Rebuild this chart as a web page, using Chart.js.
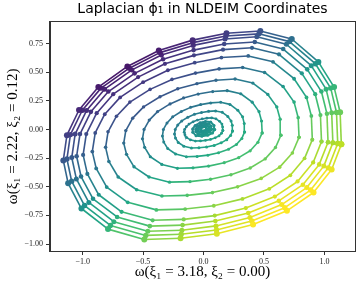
<!DOCTYPE html>
<html>
<head>
<meta charset="utf-8">
<script src="https://cdn.jsdelivr.net/npm/chart.js@4.4.1/dist/chart.umd.min.js"></script>
<style>
  body { margin: 0; background: #fff; }
  canvas { display: block; }
</style>
</head>
<body>
<canvas id="mycanvas" width="359" height="283"></canvas>
<script>
// rings of the spiral, innermost first, each as [x, y] points
var c1 = [[0.025,0.003],[0.024,0.013],[0.016,0.022],[0.004,0.023],[-0.008,0.020],[-0.019,0.013],[-0.025,0.005],[-0.024,-0.003],[-0.017,-0.011],[-0.004,-0.013],[0.009,-0.011],[0.020,-0.005]];
var c2 = [[0.046,0.002],[0.044,0.021],[0.030,0.036],[0.008,0.038],[-0.014,0.032],[-0.034,0.021],[-0.045,0.005],[-0.044,-0.011],[-0.031,-0.025],[-0.007,-0.028],[0.017,-0.024],[0.037,-0.014]];
var c3 = [[0.067,0.001],[0.063,0.028],[0.043,0.050],[0.012,0.053],[-0.021,0.045],[-0.050,0.028],[-0.065,0.005],[-0.064,-0.018],[-0.045,-0.039],[-0.010,-0.044],[0.024,-0.037],[0.053,-0.022]];
var c4 = [[0.092,-0.001],[0.087,0.035],[0.059,0.065],[0.016,0.069],[-0.029,0.058],[-0.069,0.035],[-0.090,0.005],[-0.089,-0.025],[-0.062,-0.054],[-0.014,-0.060],[0.034,-0.051],[0.074,-0.031]];

var r1 = [[0.160,-0.009],[0.158,0.022],[0.152,0.047],[0.133,0.071],[0.103,0.093],[0.067,0.101],[0.028,0.099],[-0.011,0.092],[-0.050,0.082],[-0.086,0.067],[-0.120,0.047],[-0.142,0.024],[-0.156,0.000],[-0.160,-0.024],[-0.154,-0.047],[-0.139,-0.071],[-0.108,-0.091],[-0.067,-0.101],[-0.025,-0.100],[0.017,-0.095],[0.058,-0.087],[0.097,-0.073],[0.128,-0.056],[0.149,-0.033]];
var r2 = [[0.240,-0.014],[0.238,0.036],[0.228,0.075],[0.201,0.114],[0.155,0.150],[0.100,0.162],[0.042,0.158],[-0.017,0.148],[-0.075,0.132],[-0.130,0.107],[-0.180,0.075],[-0.213,0.039],[-0.234,0.000],[-0.240,-0.039],[-0.232,-0.075],[-0.209,-0.114],[-0.163,-0.146],[-0.100,-0.162],[-0.038,-0.160],[0.025,-0.153],[0.088,-0.139],[0.146,-0.117],[0.192,-0.089],[0.224,-0.053]];
var r3 = [[0.340,-0.021],[0.337,0.052],[0.323,0.110],[0.284,0.167],[0.219,0.219],[0.142,0.238],[0.059,0.232],[-0.024,0.217],[-0.107,0.193],[-0.184,0.157],[-0.255,0.110],[-0.302,0.057],[-0.332,0.000],[-0.340,-0.057],[-0.329,-0.110],[-0.296,-0.167],[-0.231,-0.214],[-0.142,-0.238],[-0.053,-0.235],[0.036,-0.224],[0.124,-0.204],[0.207,-0.172],[0.272,-0.131],[0.317,-0.078]];
var r4 = [[0.485,-0.030],[0.480,0.074],[0.459,0.156],[0.403,0.238],[0.308,0.312],[0.196,0.339],[0.076,0.331],[-0.044,0.309],[-0.165,0.275],[-0.277,0.223],[-0.380,0.156],[-0.449,0.082],[-0.492,0.000],[-0.505,-0.082],[-0.487,-0.156],[-0.440,-0.238],[-0.345,-0.305],[-0.216,-0.339],[-0.087,-0.335],[0.042,-0.320],[0.171,-0.290],[0.291,-0.246],[0.386,-0.186],[0.450,-0.112]];
var r5 = [[0.640,-0.050],[0.634,0.089],[0.606,0.197],[0.532,0.306],[0.408,0.405],[0.261,0.440],[0.103,0.430],[-0.055,0.400],[-0.213,0.356],[-0.360,0.286],[-0.496,0.197],[-0.586,0.099],[-0.643,-0.010],[-0.660,-0.119],[-0.637,-0.217],[-0.575,-0.326],[-0.451,-0.415],[-0.281,-0.460],[-0.112,-0.455],[0.058,-0.435],[0.227,-0.395],[0.386,-0.336],[0.510,-0.257],[0.595,-0.158]];
var r6 = [[0.790,-0.069],[0.783,0.103],[0.749,0.239],[0.658,0.375],[0.505,0.498],[0.324,0.541],[0.129,0.529],[-0.066,0.492],[-0.261,0.437],[-0.442,0.350],[-0.609,0.239],[-0.720,0.116],[-0.790,-0.020],[-0.810,-0.156],[-0.783,-0.279],[-0.706,-0.415],[-0.553,-0.526],[-0.344,-0.581],[-0.135,-0.575],[0.074,-0.551],[0.282,-0.501],[0.477,-0.427],[0.630,-0.329],[0.735,-0.205]];
var r7 = [[0.900,-0.089],[0.892,0.118],[0.852,0.280],[0.749,0.443],[0.575,0.591],[0.370,0.642],[0.148,0.628],[-0.073,0.583],[-0.295,0.517],[-0.500,0.413],[-0.690,0.280],[-0.817,0.133],[-0.896,-0.030],[-0.920,-0.193],[-0.888,-0.340],[-0.801,-0.503],[-0.627,-0.636],[-0.390,-0.702],[-0.152,-0.695],[0.085,-0.666],[0.322,-0.606],[0.544,-0.518],[0.718,-0.400],[0.836,-0.252]];
var r8 = [[0.976,-0.106],[0.967,0.126],[0.924,0.308],[0.813,0.490],[0.624,0.656],[0.401,0.713],[0.161,0.697],[-0.079,0.647],[-0.319,0.573],[-0.541,0.457],[-0.747,0.308],[-0.884,0.142],[-0.970,-0.040],[-0.996,-0.222],[-0.961,-0.388],[-0.867,-0.570],[-0.678,-0.719],[-0.421,-0.793],[-0.164,-0.785],[0.093,-0.752],[0.350,-0.686],[0.590,-0.586],[0.778,-0.454],[0.907,-0.288]];
var r9 = [[1.030,-0.111],[1.021,0.137],[0.975,0.331],[0.858,0.525],[0.659,0.702],[0.424,0.764],[0.171,0.746],[-0.082,0.693],[-0.335,0.613],[-0.570,0.490],[-0.787,0.331],[-0.932,0.154],[-1.022,-0.040],[-1.050,-0.234],[-1.013,-0.411],[-0.914,-0.605],[-0.715,-0.764],[-0.444,-0.844],[-0.173,-0.835],[0.098,-0.799],[0.370,-0.729],[0.623,-0.623],[0.822,-0.482],[0.957,-0.305]];
var r10 = [[1.070,-0.115],[1.060,0.147],[1.014,0.352],[0.891,0.557],[0.685,0.744],[0.441,0.809],[0.178,0.790],[-0.085,0.734],[-0.348,0.650],[-0.592,0.520],[-0.818,0.352],[-0.968,0.165],[-1.062,-0.040],[-1.090,-0.245],[-1.052,-0.432],[-0.949,-0.637],[-0.742,-0.805],[-0.461,-0.889],[-0.179,-0.880],[0.103,-0.842],[0.384,-0.768],[0.647,-0.656],[0.854,-0.507],[0.995,-0.320]];
var r11 = [[1.110,-0.122],[1.100,0.148],[1.052,0.361],[0.925,0.574],[0.711,0.767],[0.458,0.835],[0.185,0.816],[-0.088,0.758],[-0.361,0.671],[-0.614,0.535],[-0.848,0.361],[-1.003,0.168],[-1.101,-0.045],[-1.130,-0.258],[-1.091,-0.451],[-0.984,-0.664],[-0.770,-0.838],[-0.478,-0.925],[-0.185,-0.915],[0.107,-0.877],[0.399,-0.799],[0.672,-0.683],[0.886,-0.529],[1.032,-0.335]];
var r12 = [[1.140,-0.130],[1.130,0.150],[1.080,0.370],[0.950,0.590],[0.730,0.790],[0.470,0.860],[0.190,0.840],[-0.090,0.780],[-0.370,0.690],[-0.630,0.550],[-0.870,0.370],[-1.030,0.170],[-1.130,-0.050],[-1.160,-0.270],[-1.120,-0.470],[-1.010,-0.690],[-0.790,-0.870],[-0.490,-0.960],[-0.190,-0.950],[0.110,-0.910],[0.410,-0.830],[0.690,-0.710],[0.910,-0.550],[1.060,-0.350]];

var rings = [c1, c2, c3, c4, r1, r2, r3, r4, r5, r6, r7, r8, r9, r10, r11, r12];
var xTicks = [-1.0, -0.5, 0.0, 0.5, 1.0];
var yTicks = [-1.0, -0.75, -0.5, -0.25, 0.0, 0.25, 0.5, 0.75];

var titleText = 'Laplacian \u03d5\u2081 in NLDEIM Coordinates';
var xLabel = '\u03c9(\u03be\u2081 = 3.18, \u03be\u2082 = 0.00)';
var yLabel = '\u03c9(\u03be\u2081 = 2.22, \u03be\u2082 = 0.12)';

// viridis
var vir = ['#440154','#482475','#414487','#355f8d','#2a788e','#21918c','#22a884','#44bf70','#7ad151','#bddf26','#fde725'];
function hex(h) { return [parseInt(h.substr(1,2),16), parseInt(h.substr(3,2),16), parseInt(h.substr(5,2),16)]; }
function viridis(t) {
  t = Math.max(0, Math.min(1, t));
  var f = t * 10, i = Math.min(9, Math.floor(f)), u = f - i;
  var a = hex(vir[i]), b = hex(vir[i + 1]);
  return 'rgb(' + Math.round(a[0] + (b[0]-a[0])*u) + ',' + Math.round(a[1] + (b[1]-a[1])*u) + ',' + Math.round(a[2] + (b[2]-a[2])*u) + ')';
}
function colorAt(x, y) { return viridis(0.5 + 0.3 * x - 0.45 * y); }

var sizes = [1.4, 1.5, 1.5, 1.5, 1.4, 1.5, 1.5, 1.6, 1.7, 1.8, 1.9, 2.1, 2.3, 2.5, 2.7, 3];

var datasets = [];
for (var i = rings.length - 1; i >= 0; i--) {
  datasets.push({
    data: rings[i].concat([rings[i][0]]),
    showLine: true,
    borderWidth: i < 4 ? 2 : 1.6,
    pointRadius: sizes[i],
    pointBorderWidth: 0,
    pointBackgroundColor: function (ctx) { return colorAt(ctx.raw[0], ctx.raw[1]); },
    segment: {
      borderColor: function (ctx) {
        return colorAt((ctx.p0.parsed.x + ctx.p1.parsed.x) / 2, (ctx.p0.parsed.y + ctx.p1.parsed.y) / 2);
      }
    }
  });
}

var frame = {
  id: 'frame',
  afterLayout: function (chart) {
    // center the title over the plot box, like matplotlib
    var t = chart.titleBlock, a = chart.chartArea;
    if (t) { t.left = a.left; t.right = a.right; t.width = a.right - a.left; }
  },
  afterDraw: function (chart) {
    var a = chart.chartArea, g = chart.ctx;
    g.save();
    g.strokeStyle = '#333';
    g.lineWidth = 1;
    g.strokeRect(Math.round(a.left) - 0.5, Math.round(a.top) - 0.5, Math.round(a.right - a.left) + 1, Math.round(a.bottom - a.top) + 1);
    g.restore();
  }
};

function fmt(v, d) { return (v < 0 ? '\u2212' : '') + Math.abs(v).toFixed(d); }

var ctx = document.getElementById('mycanvas');
var scatter = new Chart(ctx, {
  type: 'scatter',
  data: { datasets: datasets },
  plugins: [frame],
  options: {
    responsive: false,
    animation: false,
    devicePixelRatio: 1,
    layout: { padding: { left: 0, right: 3, top: 0, bottom: 0 } },
    plugins: {
      legend: { display: false },
      tooltip: { enabled: false },
      title: {
        display: true,
        text: titleText,
        color: '#000',
        font: { family: 'DejaVu Sans', size: 14, weight: 'normal' },
        padding: { top: 1, bottom: 4 }
      }
    },
    scales: {
      x: {
        type: 'linear',
        min: -1.27,
        max: 1.253,
        afterBuildTicks: function (s) { s.ticks = xTicks.map(function (v) { return { value: v }; }); },
        afterFit: function (s) { s.height = 32; },
        grid: { display: true, drawOnChartArea: false, drawTicks: true, tickLength: 4, color: '#333' },
        border: { display: true, color: '#333' },
        ticks: {
          padding: 2,
          color: '#222',
          font: { family: 'Liberation Serif', size: 8 },
          callback: function (v) { return fmt(v, 1); }
        },
        title: {
          display: true,
          text: xLabel,
          color: '#000',
          font: { family: 'Liberation Serif', size: 15 },
          padding: { top: 0, bottom: 2 }
        }
      },
      y: {
        type: 'linear',
        min: -1.061,
        max: 0.94,
        afterBuildTicks: function (s) { s.ticks = yTicks.map(function (v) { return { value: v }; }); },
        afterFit: function (s) { s.width = 50; },
        grid: { display: true, drawOnChartArea: false, drawTicks: true, tickLength: 4, color: '#333' },
        border: { display: true, color: '#333' },
        ticks: {
          padding: 3,
          color: '#222',
          font: { family: 'Liberation Serif', size: 8 },
          callback: function (v) { return fmt(v, 2); }
        },
        title: {
          display: true,
          text: yLabel,
          color: '#000',
          font: { family: 'Liberation Serif', size: 15 },
          padding: { top: 4, bottom: 0 }
        }
      }
    }
  }
});
</script>
</body>
</html>
